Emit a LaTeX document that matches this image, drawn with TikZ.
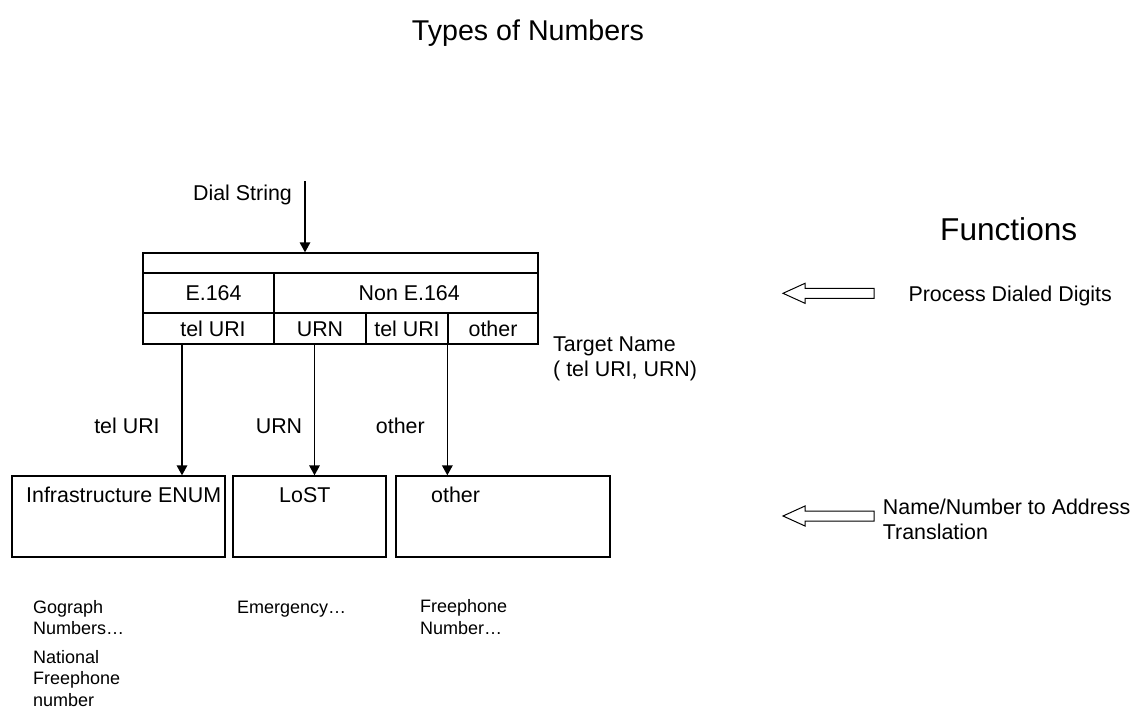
\documentclass[tikz,border=0pt]{standalone}
\usepackage{fontspec}
\setmainfont{Liberation Sans}
\usetikzlibrary{arrows.meta}
\newcommand\fmain{\fontsize{21.4}{25.3}\selectfont}
\newcommand\fsmall{\fontsize{18}{21.5}\selectfont}
\newcommand\ftitle{\fontsize{28.6}{34}\selectfont}
\newcommand\ffunc{\fontsize{31.6}{38}\selectfont}
\begin{document}
\begin{tikzpicture}[x=1pt,y=-1pt,
  cell/.style={draw, line width=1.3pt, inner sep=0pt, font=\fmain, text height=15.3pt, text depth=0pt},
  box/.style={draw, line width=1.3pt, inner sep=0pt},
  txt/.style={inner sep=0pt, font=\fmain},
  smalltxt/.style={inner sep=0pt, font=\fsmall, align=left},
  arr/.style={line width=1.6pt, -{Triangle[length=10pt,width=10.5pt]}},
  hol/.style={draw, line width=1pt, fill=white}]
\useasboundingbox (0,0) rectangle (1131,707);
\fill[white] (0,0) rectangle (1131,707);

% title
\node[inner sep=0pt, font=\ftitle, anchor=base] (title) at (528,40) {Types of Numbers};

% top table
\node[cell, minimum width=395pt, minimum height=20pt] (r0) at (340.5,263) {};
\node[cell, minimum width=131pt, minimum height=40pt] (e164) at (208.5,293) {\hspace*{10pt}E.164};
\node[cell, minimum width=264pt, minimum height=40pt] (non) at (406,293) {\hspace*{6.5pt}Non E.164};
\node[cell, minimum width=131pt, minimum height=31pt] (tu1) at (208.5,328.5) {\hspace*{9pt}tel URI};
\node[cell, minimum width=92pt, minimum height=31pt] (urn) at (320,328.5) {URN};
\node[cell, minimum width=82pt, minimum height=31pt] (tu2) at (407,328.5) {tel URI};
\node[cell, minimum width=90pt, minimum height=31pt] (oth) at (493,328.5) {other};

% dial string
\node[txt, anchor=base] (ds) at (242.5,200) {Dial String};
\coordinate (xd) at (305,181);
\draw[arr] (xd) -- (r0.north -| xd);

% target name (base = last line)
\node[txt, anchor=base west, align=left] (tn) at (553,376.5) {Target Name\\( tel URI, URN)};

% lower boxes
\node[box, minimum width=213pt, minimum height=81pt] (enum) at (118.5,516.5) {};
\node[box, minimum width=153pt, minimum height=81pt] (lost) at (309.5,516.5) {};
\node[box, minimum width=214pt, minimum height=81pt] (othb) at (503,516.5) {};
\node[txt, anchor=base west] (enumt) at (26,502.7) {Infrastructure ENUM};
\node[txt, anchor=base west] (lostt) at (279,502.7) {LoST};
\node[txt, anchor=base west] (otht) at (431,502.7) {other};

% connectors
\coordinate (xa) at (182,0);
\coordinate (xb) at (314.5,0);
\draw[arr] (tu1.south -| xa) -- (enum.north -| xa);
\draw[arr] (urn.south -| xb) -- (lost.north -| xb);
\draw[arr] (oth.south west) -- (othb.north -| oth.south west);
\node[txt, anchor=base] (l1) at (127,433) {tel URI};
\node[txt, anchor=base] (l2) at (279,433) {URN};
\node[txt, anchor=base] (l3) at (400.3,433) {other};

% functions
\node[inner sep=0pt, font=\ffunc, anchor=base west] (fn) at (940,240.7) {Functions};
\node[txt, anchor=base west] (pdd) at (908.3,301) {Process Dialed Digits};
\node[txt, anchor=base west, align=left] (nna) at (882.7,539.5) {Name/Number to Address\\Translation};
\draw[hol] (783,293.3) -- (805,283.3) -- (805,288.3) -- (874,288.3) -- (874,298.3) -- (805,298.3) -- (805,303.3) -- cycle;
\draw[hol] (783,516) -- (805,506) -- (805,511) -- (874,511) -- (874,521) -- (805,521) -- (805,526) -- cycle;

% examples (base = last line)
\node[smalltxt, anchor=base west] (g1) at (33,634.5) {Gograph\\Numbers…};
\node[smalltxt, anchor=base west] (g2) at (33,706) {National\\Freephone\\number};
\node[smalltxt, anchor=base west] (em) at (237,613) {Emergency…};
\node[smalltxt, anchor=base west] (fp) at (420,634) {Freephone\\Number…};
\end{tikzpicture}
\end{document}
